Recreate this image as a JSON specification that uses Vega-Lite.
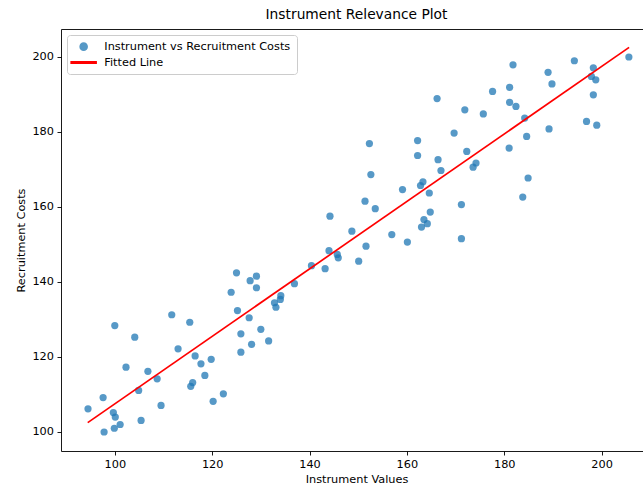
{
  "$schema": "https://vega.github.io/schema/vega-lite/v6.json",
  "width": 582,
  "height": 422,
  "autosize": "none",
  "padding": {"left": 61, "top": 29, "right": 0, "bottom": 37},
  "background": "white",
  "title": {"text": "Instrument Relevance Plot", "font": "DejaVu Sans", "fontSize": 13.8, "fontWeight": "normal", "color": "#000000", "dx": 4.5, "offset": 7, "anchor": "middle"},
  "config": {
    "view": {"stroke": null},
    "axis": {"domainColor": "#000000", "domainWidth": 0.9, "tickColor": "#000000", "tickWidth": 0.9, "tickSize": 4, "labelFont": "DejaVu Sans", "labelFontSize": 11.3, "labelColor": "#000000", "titleFont": "DejaVu Sans", "titleFontSize": 11.3, "titleFontWeight": "normal", "titleColor": "#000000", "grid": false, "labelPadding": 3.5, "labelFlush": false},
    "legend": {"orient": "top-left", "offset": 6, "padding": 6, "fillColor": "rgba(255,255,255,0.8)", "strokeColor": "#cccccc", "cornerRadius": 3, "labelFont": "DejaVu Sans", "labelFontSize": 11.3, "labelColor": "#000000", "labelLimit": 400, "symbolSize": 50, "symbolOffset": 5, "labelOffset": 15, "rowPadding": 1.9, "title": null}
  },
  "datasets": {
    "scatter": [
      {"instrument": 94.5, "recruitment": 106.1, "series": "Instrument vs Recruitment Costs"},
      {"instrument": 97.6, "recruitment": 109.1, "series": "Instrument vs Recruitment Costs"},
      {"instrument": 97.8, "recruitment": 99.9, "series": "Instrument vs Recruitment Costs"},
      {"instrument": 99.7, "recruitment": 105.1, "series": "Instrument vs Recruitment Costs"},
      {"instrument": 100.1, "recruitment": 103.9, "series": "Instrument vs Recruitment Costs"},
      {"instrument": 99.9, "recruitment": 100.9, "series": "Instrument vs Recruitment Costs"},
      {"instrument": 101.1, "recruitment": 101.9, "series": "Instrument vs Recruitment Costs"},
      {"instrument": 100.0, "recruitment": 128.3, "series": "Instrument vs Recruitment Costs"},
      {"instrument": 102.3, "recruitment": 117.2, "series": "Instrument vs Recruitment Costs"},
      {"instrument": 104.1, "recruitment": 125.2, "series": "Instrument vs Recruitment Costs"},
      {"instrument": 104.9, "recruitment": 111.0, "series": "Instrument vs Recruitment Costs"},
      {"instrument": 105.4, "recruitment": 103.0, "series": "Instrument vs Recruitment Costs"},
      {"instrument": 106.8, "recruitment": 116.1, "series": "Instrument vs Recruitment Costs"},
      {"instrument": 108.7, "recruitment": 114.1, "series": "Instrument vs Recruitment Costs"},
      {"instrument": 109.5, "recruitment": 107.0, "series": "Instrument vs Recruitment Costs"},
      {"instrument": 111.7, "recruitment": 131.2, "series": "Instrument vs Recruitment Costs"},
      {"instrument": 113.0, "recruitment": 122.1, "series": "Instrument vs Recruitment Costs"},
      {"instrument": 115.4, "recruitment": 129.2, "series": "Instrument vs Recruitment Costs"},
      {"instrument": 115.6, "recruitment": 112.1, "series": "Instrument vs Recruitment Costs"},
      {"instrument": 116.0, "recruitment": 113.1, "series": "Instrument vs Recruitment Costs"},
      {"instrument": 116.5, "recruitment": 120.2, "series": "Instrument vs Recruitment Costs"},
      {"instrument": 117.7, "recruitment": 118.1, "series": "Instrument vs Recruitment Costs"},
      {"instrument": 118.5, "recruitment": 115.0, "series": "Instrument vs Recruitment Costs"},
      {"instrument": 119.8, "recruitment": 119.3, "series": "Instrument vs Recruitment Costs"},
      {"instrument": 120.2, "recruitment": 108.1, "series": "Instrument vs Recruitment Costs"},
      {"instrument": 122.3, "recruitment": 110.1, "series": "Instrument vs Recruitment Costs"},
      {"instrument": 123.9, "recruitment": 137.2, "series": "Instrument vs Recruitment Costs"},
      {"instrument": 125.0, "recruitment": 142.4, "series": "Instrument vs Recruitment Costs"},
      {"instrument": 125.2, "recruitment": 132.3, "series": "Instrument vs Recruitment Costs"},
      {"instrument": 125.9, "recruitment": 126.1, "series": "Instrument vs Recruitment Costs"},
      {"instrument": 125.9, "recruitment": 121.2, "series": "Instrument vs Recruitment Costs"},
      {"instrument": 127.6, "recruitment": 130.4, "series": "Instrument vs Recruitment Costs"},
      {"instrument": 127.8, "recruitment": 140.3, "series": "Instrument vs Recruitment Costs"},
      {"instrument": 128.1, "recruitment": 123.3, "series": "Instrument vs Recruitment Costs"},
      {"instrument": 129.1, "recruitment": 138.4, "series": "Instrument vs Recruitment Costs"},
      {"instrument": 129.1, "recruitment": 141.5, "series": "Instrument vs Recruitment Costs"},
      {"instrument": 130.0, "recruitment": 127.3, "series": "Instrument vs Recruitment Costs"},
      {"instrument": 131.6, "recruitment": 124.2, "series": "Instrument vs Recruitment Costs"},
      {"instrument": 132.8, "recruitment": 134.4, "series": "Instrument vs Recruitment Costs"},
      {"instrument": 133.1, "recruitment": 133.2, "series": "Instrument vs Recruitment Costs"},
      {"instrument": 134.0, "recruitment": 135.3, "series": "Instrument vs Recruitment Costs"},
      {"instrument": 134.1, "recruitment": 136.3, "series": "Instrument vs Recruitment Costs"},
      {"instrument": 136.9, "recruitment": 139.5, "series": "Instrument vs Recruitment Costs"},
      {"instrument": 140.4, "recruitment": 144.3, "series": "Instrument vs Recruitment Costs"},
      {"instrument": 143.2, "recruitment": 143.5, "series": "Instrument vs Recruitment Costs"},
      {"instrument": 144.2, "recruitment": 157.5, "series": "Instrument vs Recruitment Costs"},
      {"instrument": 144.0, "recruitment": 148.3, "series": "Instrument vs Recruitment Costs"},
      {"instrument": 145.7, "recruitment": 147.3, "series": "Instrument vs Recruitment Costs"},
      {"instrument": 145.9, "recruitment": 146.4, "series": "Instrument vs Recruitment Costs"},
      {"instrument": 148.7, "recruitment": 153.5, "series": "Instrument vs Recruitment Costs"},
      {"instrument": 150.1, "recruitment": 145.5, "series": "Instrument vs Recruitment Costs"},
      {"instrument": 151.4, "recruitment": 161.5, "series": "Instrument vs Recruitment Costs"},
      {"instrument": 151.6, "recruitment": 149.5, "series": "Instrument vs Recruitment Costs"},
      {"instrument": 152.3, "recruitment": 176.9, "series": "Instrument vs Recruitment Costs"},
      {"instrument": 152.6, "recruitment": 168.6, "series": "Instrument vs Recruitment Costs"},
      {"instrument": 153.5, "recruitment": 159.5, "series": "Instrument vs Recruitment Costs"},
      {"instrument": 156.9, "recruitment": 152.6, "series": "Instrument vs Recruitment Costs"},
      {"instrument": 159.1, "recruitment": 164.6, "series": "Instrument vs Recruitment Costs"},
      {"instrument": 160.1, "recruitment": 150.6, "series": "Instrument vs Recruitment Costs"},
      {"instrument": 162.2, "recruitment": 177.7, "series": "Instrument vs Recruitment Costs"},
      {"instrument": 162.2, "recruitment": 173.7, "series": "Instrument vs Recruitment Costs"},
      {"instrument": 162.8, "recruitment": 165.7, "series": "Instrument vs Recruitment Costs"},
      {"instrument": 163.3, "recruitment": 166.7, "series": "Instrument vs Recruitment Costs"},
      {"instrument": 163.0, "recruitment": 154.6, "series": "Instrument vs Recruitment Costs"},
      {"instrument": 163.5, "recruitment": 156.6, "series": "Instrument vs Recruitment Costs"},
      {"instrument": 164.2, "recruitment": 155.5, "series": "Instrument vs Recruitment Costs"},
      {"instrument": 164.6, "recruitment": 163.7, "series": "Instrument vs Recruitment Costs"},
      {"instrument": 164.8, "recruitment": 158.6, "series": "Instrument vs Recruitment Costs"},
      {"instrument": 166.2, "recruitment": 188.9, "series": "Instrument vs Recruitment Costs"},
      {"instrument": 166.4, "recruitment": 172.6, "series": "Instrument vs Recruitment Costs"},
      {"instrument": 167.0, "recruitment": 169.7, "series": "Instrument vs Recruitment Costs"},
      {"instrument": 169.7, "recruitment": 179.7, "series": "Instrument vs Recruitment Costs"},
      {"instrument": 171.2, "recruitment": 160.6, "series": "Instrument vs Recruitment Costs"},
      {"instrument": 171.2, "recruitment": 151.5, "series": "Instrument vs Recruitment Costs"},
      {"instrument": 171.9, "recruitment": 185.9, "series": "Instrument vs Recruitment Costs"},
      {"instrument": 172.3, "recruitment": 174.8, "series": "Instrument vs Recruitment Costs"},
      {"instrument": 173.6, "recruitment": 170.6, "series": "Instrument vs Recruitment Costs"},
      {"instrument": 174.2, "recruitment": 171.7, "series": "Instrument vs Recruitment Costs"},
      {"instrument": 175.7, "recruitment": 184.8, "series": "Instrument vs Recruitment Costs"},
      {"instrument": 177.6, "recruitment": 190.8, "series": "Instrument vs Recruitment Costs"},
      {"instrument": 181.1, "recruitment": 191.9, "series": "Instrument vs Recruitment Costs"},
      {"instrument": 181.0, "recruitment": 175.7, "series": "Instrument vs Recruitment Costs"},
      {"instrument": 181.1, "recruitment": 187.9, "series": "Instrument vs Recruitment Costs"},
      {"instrument": 181.8, "recruitment": 197.9, "series": "Instrument vs Recruitment Costs"},
      {"instrument": 182.4, "recruitment": 186.8, "series": "Instrument vs Recruitment Costs"},
      {"instrument": 183.8, "recruitment": 162.6, "series": "Instrument vs Recruitment Costs"},
      {"instrument": 184.2, "recruitment": 183.7, "series": "Instrument vs Recruitment Costs"},
      {"instrument": 184.6, "recruitment": 178.8, "series": "Instrument vs Recruitment Costs"},
      {"instrument": 184.9, "recruitment": 167.7, "series": "Instrument vs Recruitment Costs"},
      {"instrument": 189.0, "recruitment": 195.9, "series": "Instrument vs Recruitment Costs"},
      {"instrument": 189.8, "recruitment": 192.8, "series": "Instrument vs Recruitment Costs"},
      {"instrument": 189.2, "recruitment": 180.8, "series": "Instrument vs Recruitment Costs"},
      {"instrument": 194.4, "recruitment": 199.0, "series": "Instrument vs Recruitment Costs"},
      {"instrument": 196.9, "recruitment": 182.8, "series": "Instrument vs Recruitment Costs"},
      {"instrument": 198.3, "recruitment": 197.1, "series": "Instrument vs Recruitment Costs"},
      {"instrument": 197.9, "recruitment": 194.8, "series": "Instrument vs Recruitment Costs"},
      {"instrument": 198.8, "recruitment": 193.9, "series": "Instrument vs Recruitment Costs"},
      {"instrument": 198.3, "recruitment": 189.9, "series": "Instrument vs Recruitment Costs"},
      {"instrument": 199.0, "recruitment": 181.8, "series": "Instrument vs Recruitment Costs"},
      {"instrument": 205.6, "recruitment": 200.0, "series": "Instrument vs Recruitment Costs"}
    ],
    "line": [
      {"instrument": 94.44, "recruitment": 102.4, "series": "Fitted Line"},
      {"instrument": 205.65, "recruitment": 202.56, "series": "Fitted Line"}
    ]
  },
  "layer": [
    {
      "data": {"name": "scatter"},
      "mark": {"type": "point", "filled": true, "size": 52, "strokeWidth": 0},
      "encoding": {
        "x": {"field": "instrument", "type": "quantitative", "scale": {"domain": [88.95, 208.5], "nice": false, "zero": false}, "axis": {"title": "Instrument Values", "values": [100, 120, 140, 160, 180, 200], "titlePadding": 4, "titleX": 295.5}},
        "y": {"field": "recruitment", "type": "quantitative", "scale": {"domain": [94.83, 207.47], "nice": false, "zero": false}, "axis": {"title": "Recruitment Costs", "values": [100, 120, 140, 160, 180, 200], "titlePadding": 5}},
        "color": {"field": "series", "type": "nominal", "scale": {"domain": ["Instrument vs Recruitment Costs", "Fitted Line"], "range": ["#1f77b4", "#ff0000"]}},
        "shape": {"field": "series", "type": "nominal", "scale": {"domain": ["Instrument vs Recruitment Costs", "Fitted Line"], "range": ["circle", "M-3.54,-0.22L3.54,-0.22L3.54,0.22L-3.54,0.22Z"]}},
        "opacity": {"field": "series", "type": "nominal", "scale": {"domain": ["Instrument vs Recruitment Costs", "Fitted Line"], "range": [0.75, 1]}}
      }
    },
    {
      "data": {"name": "line"},
      "mark": {"type": "line", "strokeWidth": 1.7},
      "encoding": {
        "x": {"field": "instrument", "type": "quantitative", "axis": {"orient": "top", "labels": false, "ticks": false, "title": null, "domain": true}},
        "y": {"field": "recruitment", "type": "quantitative"},
        "color": {"field": "series", "type": "nominal"},
        "opacity": {"field": "series", "type": "nominal"}
      }
    }
  ],
  "resolve": {"axis": {"x": "independent"}}
}
